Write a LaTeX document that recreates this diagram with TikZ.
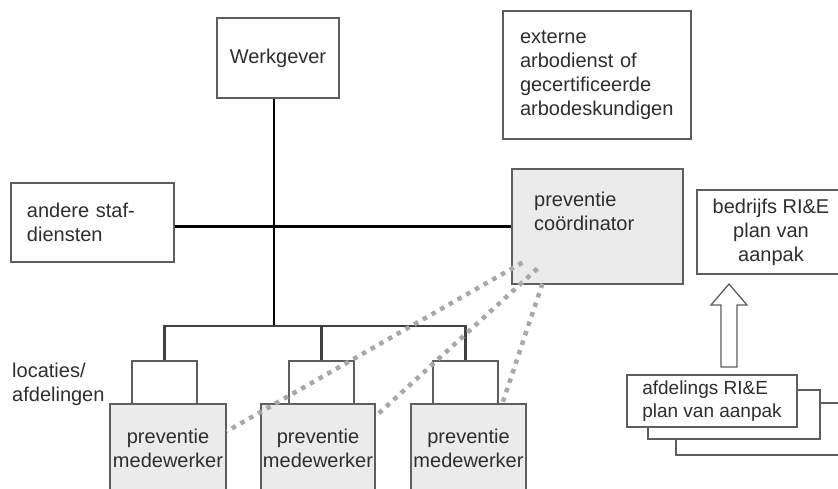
\documentclass[tikz,border=0pt]{standalone}
\usepackage{fontspec}
\setmainfont{Liberation Sans}
\usepackage{xcolor}
\usetikzlibrary{calc}
\definecolor{boxline}{HTML}{5E5E5E}
\definecolor{boxgray}{HTML}{EBEBEB}
\definecolor{dotgray}{HTML}{A8A8A8}
\definecolor{txtgray}{HTML}{2E2E2E}

\begin{document}
\begin{tikzpicture}[x=1pt, y=-1pt,
    box/.style={draw=boxline, line width=1.3pt, fill=white, inner sep=0pt},
    graybox/.style={box, fill=boxgray},
    txt/.style={text=txtgray, font=\fontsize{20}{24}\selectfont, inner sep=0pt},
    link/.style={line width=2.2pt, draw=black},
    bus/.style={line width=2.2pt, draw=black!75},
    dots/.style={draw=dotgray, line width=4.5pt, dash pattern=on 4.5pt off 5.5pt}]
      \useasboundingbox (0,0) rectangle (838,488);
      \clip (0,0) rectangle (838,488);
      \node [box, txt, minimum width=122pt, minimum height=80pt] (werk) at (278,58) {Werkgever};
      \node [box, txt, align=left, text width=131pt, inner xsep=16pt, minimum height=79pt] (staf) at (92.5,222.5) {andere staf-\\diensten};
      \node [box, txt, align=left, text width=154pt, inner xsep=17pt, minimum height=128pt] (extern) at (597,75) {externe\\arbodienst of\\gecertificeerde\\arbodeskundigen};
      \node [graybox, minimum width=171pt, minimum height=115pt] (coord) at (597.5,226.5) {};
      \node [txt, align=left, anchor=west] (coordtxt) at (534,211.5) {preventie\\coördinator};
      \node [box, txt, align=center, minimum width=148pt, minimum height=84pt] (bedr) at (771,232) {bedrijfs RI\&E\\plan van\\aanpak};
      \node [box, minimum width=169pt, minimum height=52pt] (afd3) at (760.5,429) {};
      \node [box, minimum width=172pt, minimum height=49pt] (afd2) at (734,414.5) {};
      \node [box, txt, font=\fontsize{19}{23}\selectfont, align=left, minimum width=170pt, minimum height=52pt] (afd) at (712,401) {afdelings RI\&E\\plan van aanpak};
      \node [txt, align=left, anchor=west] (loc) at (12,384.5) {locaties/\\afdelingen};
      \node [box, minimum width=65pt, minimum height=43pt] (sb1) at (164.5,382.5) {};
      \node [box, minimum width=65pt, minimum height=43pt] (sb2) at (321.5,382.5) {};
      \node [box, minimum width=65pt, minimum height=43pt] (sb3) at (465.5,382.5) {};
      \node [graybox, minimum width=116pt, minimum height=91pt] (pm1) at (168,449.5) {};
      \node [graybox, minimum width=114pt, minimum height=91pt] (pm2) at (318,449.5) {};
      \node [graybox, minimum width=115pt, minimum height=91pt] (pm3) at (468.5,449.5) {};
      \node [txt, align=center] (pmtxt1) at (168,448.5) {preventie\\medewerker};
      \node [txt, align=center] (pmtxt2) at (318,448.5) {preventie\\medewerker};
      \node [txt, align=center] (pmtxt3) at (468.5,448.5) {preventie\\medewerker};
      \coordinate (split) at (274,326);
      \coordinate (arrbase) at (729,367);
      \draw [link] (split |- werk.south) -- (split);
      \draw [link] (staf.east |- coord.west) -- (coord.west);
      \draw [bus] (sb1.north) -- (sb1.north |- split) -- (sb3.north |- split) -- (sb3.north);
      \draw [bus] (sb2.north) -- (sb2.north |- split);
      \draw [box] (arrbase) ++(-8,0) -- ++(0,-62) -- ++(-10,0) -- ++(18,-21) -- ++(18,21) -- ++(-10,0) -- ++(0,62) -- cycle;
      \draw [dots] ($(coord.south west)+(11,-22)$) -- ($(pm1.north east)+(0,28)$);
      \draw [dots] ($(coord.south west)+(26,-16)$) -- ($(pm2.north east)+(2,11)$);
      \draw [dots] ($(coord.south west)+(31,-1)$) -- ($(pm3.north west)+(92,0)$);
\end{tikzpicture}
\end{document}
